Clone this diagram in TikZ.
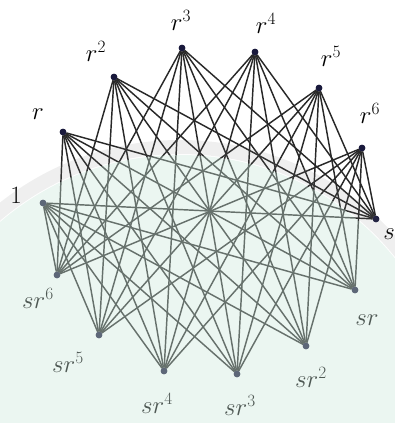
\documentclass[tikz,border=0pt]{standalone}
\usetikzlibrary{calc}
\begin{document}
\begin{tikzpicture}[x=1pt,y=-1pt,
  vtx/.style={circle,fill=vcol,inner sep=0pt,minimum size=6.5pt},
  lbl/.style={inner sep=0pt,font=\fontsize{24}{28}\selectfont},
  edge/.style={draw=ecol,line width=1.45pt}]
\definecolor{vcol}{RGB}{25,25,60}
\definecolor{ecol}{RGB}{40,40,40}
\definecolor{mint}{RGB}{205,232,220}
\clip (0,0) rectangle (395,423);
\fill[white] (0,0) rectangle (395,423);
% vertices
\node[vtx] (e)  at (43,203) {};
\node[vtx] (r1) at (63,132) {};
\node[vtx] (r2) at (114,77) {};
\node[vtx] (r3) at (182,48) {};
\node[vtx] (r4) at (255,52) {};
\node[vtx] (r5) at (319,88) {};
\node[vtx] (r6) at (362,148) {};
\node[vtx] (s0) at (376,219) {};
\node[vtx] (s1) at (355,290) {};
\node[vtx] (s2) at (306,346) {};
\node[vtx] (s3) at (237,374) {};
\node[vtx] (s4) at (164,371) {};
\node[vtx] (s5) at (99,335) {};
\node[vtx] (s6) at (57,275) {};
% edges K_{7,7}
\foreach \a in {e,r1,r2,r3,r4,r5,r6}
  \foreach \b in {s0,s1,s2,s3,s4,s5,s6}
    \draw[edge] (\a) -- (\b);
\foreach \v in {e,r1,r2,r3,r4,r5,r6,s0,s1,s2,s3,s4,s5,s6}
  \fill[vcol] (\v) circle (3.3pt);
% labels
\node[lbl] (l0) at (16,195) {$1$};
\node[lbl] (l1) at (38,114) {$r$};
\node[lbl] (l2) at (96,51) {$r^2$};
\node[lbl] (l3) at (181,20) {$r^3$};
\node[lbl] (l4) at (266,23) {$r^4$};
\node[lbl] (l5) at (331,56) {$r^5$};
\node[lbl] (l6) at (370,113) {$r^6$};
\node[lbl] (m0) at (389,234) {$s$};
\node[lbl] (m1) at (367,320) {$sr$};
\node[lbl] (m2) at (311,377) {$sr^2$};
\node[lbl] (m3) at (240,405) {$sr^3$};
\node[lbl] (m4) at (157,403) {$sr^4$};
\node[lbl] (m5) at (68,362) {$sr^5$};
\node[lbl] (m6) at (38,298) {$sr^6$};
% watermark overlay
\fill[mint,opacity=0.38] (180,430) circle (275);
\draw[gray,opacity=0.12,line width=14pt] (180,430) circle (283);
\end{tikzpicture}
\end{document}
